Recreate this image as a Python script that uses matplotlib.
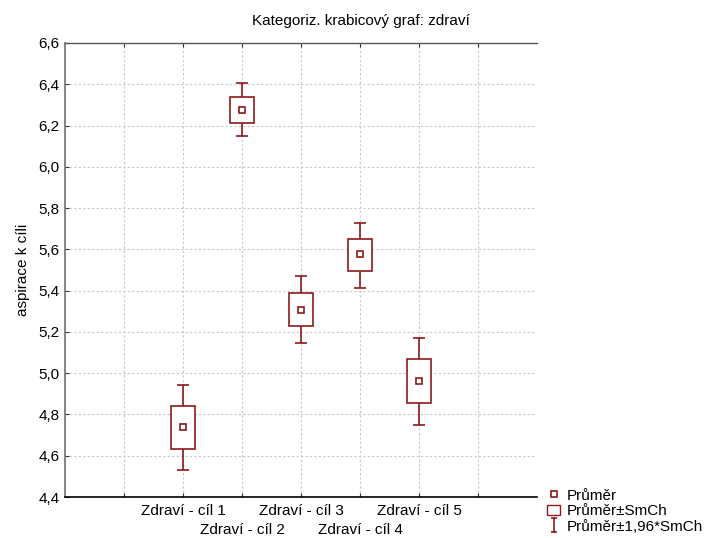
import numpy as np
import matplotlib
matplotlib.use("Agg")
from matplotlib import pyplot as plt
from matplotlib.lines import Line2D
from matplotlib.patches import Patch
from matplotlib.path import Path

plt.rcParams['font.family'] = ['Liberation Sans', 'DejaVu Sans']

# data
categories = ["Zdraví - cíl 1", "Zdraví - cíl 2", "Zdraví - cíl 3", "Zdraví - cíl 4", "Zdraví - cíl 5"]
means = [4.737, 6.274, 5.306, 5.576, 4.962]
se_lo = [4.633, 6.212, 5.227, 5.494, 4.855]
se_hi = [4.841, 6.340, 5.390, 5.652, 5.067]
ci_lo = [4.533, 6.149, 5.146, 5.415, 4.751]
ci_hi = [4.941, 6.405, 5.471, 5.729, 5.170]

col = '#8b1a1a'
fs = 11
pos = np.arange(2, 2 + len(categories))

fig = plt.figure(figsize=(7.11, 5.38), dpi=100)
ax = fig.add_axes([65/711, 1 - 497/538, 472/711, 454/538])

# whiskers (drawn first so the box covers them)
ax.vlines(pos, ci_lo, ci_hi, color=col, lw=1.2, zorder=3)
ax.hlines(ci_lo, pos - 0.1, pos + 0.1, color=col, lw=1.2, zorder=3)
ax.hlines(ci_hi, pos - 0.1, pos + 0.1, color=col, lw=1.2, zorder=3)

# boxes mean +- SE
heights = np.array(se_hi) - np.array(se_lo)
ax.bar(pos, heights, bottom=se_lo, width=0.41, facecolor='white',
       edgecolor=col, linewidth=1.2, zorder=4)

# means
ax.plot(pos, means, 's', ms=4, mfc='white', mec=col, mew=1.2, zorder=5)

ax.set_xlim(0, 8)
ax.set_ylim(4.4, 6.6)
yt = np.round(np.arange(4.4, 6.61, 0.2), 1)
ax.set_yticks(yt)
ax.set_yticklabels([f"{v:.1f}".replace('.', ',') for v in yt], fontsize=fs)

# gridline ticks at every integer, labels in two rows
ax.xaxis.remove_overlapping_locs = False
xt = np.arange(1, 8)
ax.set_xticks(xt)
ax.set_xticklabels([categories[list(pos).index(t)] if (t in pos and list(pos).index(t) % 2 == 0) else ""
                    for t in xt], fontsize=fs)
ax.set_xticks(pos[1::2], minor=True)
ax.set_xticklabels(categories[1::2], minor=True, fontsize=fs)
ax.tick_params(axis='x', which='minor', length=0, pad=19, top=False)

ax.tick_params(axis='both', which='major', direction='in', length=3, width=0.8, pad=4,
               top=True, right=False, colors='#333333', labelcolor='black')
ax.tick_params(axis='x', which='major', pad=5)

ax.grid(True, which='major', color='#c8c8c8', linestyle=(0, (2, 2)), lw=0.8)
ax.set_axisbelow(True)

ax.spines['right'].set_visible(False)
ax.spines['left'].set_color('#7a7a7a')
ax.spines['left'].set_linewidth(1.3)
ax.spines['bottom'].set_color('black')
ax.spines['bottom'].set_linewidth(1.2)
ax.spines['top'].set_color('#555555')
ax.spines['top'].set_linewidth(1.0)

ax.set_ylabel("aspirace k cíli", fontsize=fs, labelpad=6)
fig.text(361/711, 1 - 21/538, "Kategoriz. krabicový graf: zdraví", ha='center', va='center', fontsize=fs)

# legend
i_path = Path([(-0.5, -1), (0.5, -1), (0, -1), (0, 1), (-0.5, 1), (0.5, 1)],
              [Path.MOVETO, Path.LINETO, Path.MOVETO, Path.LINETO, Path.MOVETO, Path.LINETO])
handles = [
    Line2D([], [], marker='s', ls='none', ms=4, mfc='white', mec=col, mew=1.2),
    Patch(facecolor='white', edgecolor=col, linewidth=1.0),
    Line2D([], [], marker=i_path, ls='none', ms=10, mfc='none', mec=col, mew=1.2),
]
fig.legend(handles, ["Průměr", "Průměr±SmCh", "Průměr±1,96*SmCh"],
           loc='lower left', bbox_to_anchor=(536/711, -0.012), frameon=False,
           fontsize=fs, handlelength=0.9, handletextpad=0.4,
           labelspacing=0.1, borderpad=0.2)

fig.savefig("out.png", dpi=100)
